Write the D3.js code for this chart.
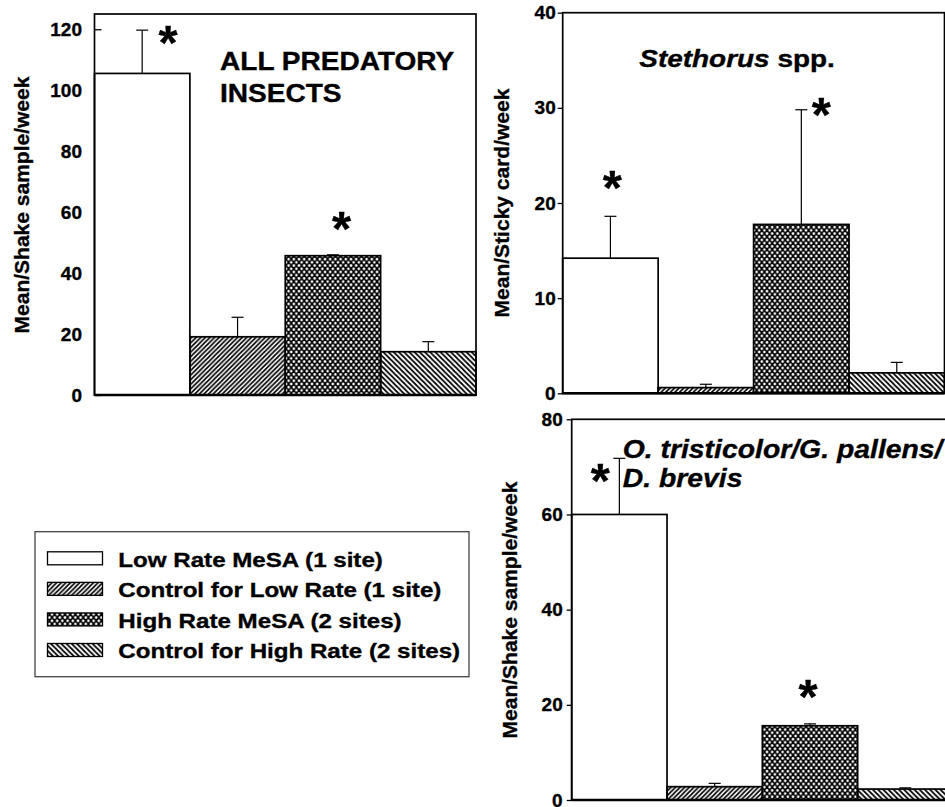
<!DOCTYPE html>
<html>
<head>
<meta charset="utf-8">
<script src="https://cdn.jsdelivr.net/npm/d3@7"></script>
<style>
body{margin:0;background:#fff;overflow:hidden;}
svg text{font-family:'Liberation Sans',Arial,sans-serif;font-weight:bold;fill:#000;stroke:#000;stroke-width:0.35px;}
</style>
</head>
<body>
<svg id="chart"></svg>
<script>
// treatments, in bar order
const categories = ['Low Rate MeSA (1 site)', 'Control for Low Rate (1 site)', 'High Rate MeSA (2 sites)', 'Control for High Rate (2 sites)'];
const patternIds = ['plain', 'fwdHatch', 'crossHatch', 'backHatch'];

// all predatory insects, shake samples
const predatorMeans = [105.5, 19.1, 45.7, 14.2];
const predatorSE = [14.2, 6.4, 0.3, 3.3];
const predatorTicks = [0, 20, 40, 60, 80, 100, 120];
const predatorStars = [0, 2];
const predatorStarAt = [119.5, 58.4];
const predatorStarShift = [0.27, 0.09];

// Stethorus, sticky cards
const stethorusMeans = [14.2, 0.6, 17.75, 2.15];
const stethorusSE = [4.4, 0.35, 12.05, 1.1];
const stethorusTicks = [0, 10, 20, 30, 40];
const stethorusStars = [0, 2];
const stethorusStarAt = [22.9, 30.6];
const stethorusStarShift = [0.02, 0.21];

// O. tristicolor / G. pallens / D. brevis, shake samples
const bugMeans = [60.0, 2.8, 15.6, 2.3];
const bugSE = [11.8, 0.7, 0.4, 0.25];
const bugTicks = [0, 20, 40, 60, 80];
const bugStars = [0, 2];
const bugStarAt = [69.7, 24.2];
const bugStarShift = [-0.2, -0.02];

var draw = function(){
    const width = 945, height = 807;
    var svg = d3.select('svg#chart')
    .attr('width', width)
    .attr('height', height);

    // hatch fills
    var defs = svg.append('defs');
    defs.append('pattern')
    .attr('id', 'fwdHatch')
    .attr('patternUnits', 'userSpaceOnUse')
    .attr('width', 4.6).attr('height', 4.6)
    .append('path')
    .attr('d', 'M-1,1 L1,-1 M0,4.6 L4.6,0 M3.6,5.6 L5.6,3.6')
    .attr('stroke', '#000').attr('stroke-width', 1.7);

    defs.append('pattern')
    .attr('id', 'backHatch')
    .attr('patternUnits', 'userSpaceOnUse')
    .attr('width', 5.2).attr('height', 5.2)
    .append('path')
    .attr('d', 'M-1,4.2 L1,6.2 M0,0 L5.2,5.2 M4.2,-1 L6.2,1')
    .attr('stroke', '#000').attr('stroke-width', 1.7);

    var cross = defs.append('pattern')
    .attr('id', 'crossHatch')
    .attr('patternUnits', 'userSpaceOnUse')
    .attr('width', 5.2).attr('height', 6.4);
    cross.append('rect')
    .attr('width', 5.2).attr('height', 6.4)
    .attr('fill', '#000');
    cross.selectAll('circle')
    .data([[0, 0], [5.2, 0], [0, 6.4], [5.2, 6.4], [2.6, 3.2]])
    .enter().append('circle')
    .attr('cx', d => d[0]).attr('cy', d => d[1])
    .attr('r', 1.35)
    .attr('fill', '#fff');

    function fillOf(i){
        return patternIds[i] === 'plain' ? '#fff' : 'url(#' + patternIds[i] + ')';
    }

    // text that is a bit wider than the font, like the scanned figure
    function wideText(g, x, y, size, sx){
        return g.append('text')
        .attr('transform', 'translate(' + x + ',' + y + ') scale(' + sx + ',1)')
        .style('font-size', size + 'px');
    }

    function drawPanel(p){
        var g = svg.append('g');

        var x = d3.scaleBand()
        .domain(d3.range(categories.length))
        .range([p.left, p.right])
        .padding(0);

        var y = d3.scaleLinear()
        .domain([0, p.max])
        .range([p.bottom, p.top]);

        var axis = d3.axisLeft(y)
        .tickValues(p.ticks)
        .tickSizeInner(p.tickSize)
        .tickSizeOuter(0)
        .tickPadding(p.tickPad);

        var ax = g.append('g')
        .attr('transform', 'translate(' + p.left + ',0)')
        .call(axis);
        ax.select('.domain').remove();
        ax.selectAll('line').attr('stroke', '#000').attr('stroke-width', 1.3);
        ax.selectAll('text')
        .attr('fill', '#000')
        .style('font-size', '19px')
        .style('font-family', "'Liberation Sans',Arial,sans-serif")
        .style('font-weight', 'bold');

        g.append('text')
        .attr('transform', 'translate(' + p.labelX + ',' + p.labelY + ') rotate(-90)')
        .attr('text-anchor', 'middle')
        .style('font-size', '21px')
        .text(p.label);

        // bars
        g.selectAll('rect.bar')
        .data(p.means)
        .enter().append('rect')
        .attr('class', 'bar')
        .attr('x', (d, i) => x(i))
        .attr('width', x.bandwidth())
        .attr('y', d => y(d))
        .attr('height', d => p.bottom - y(d))
        .attr('fill', (d, i) => fillOf(i))
        .attr('stroke', '#000')
        .attr('stroke-width', 1.7);

        // error bars, upper side only
        var cap = 6;
        var eb = g.selectAll('g.err')
        .data(p.means.map((m, i) => ({i: i, lo: m, hi: m + p.se[i]})))
        .enter().append('g')
        .attr('class', 'err')
        .attr('stroke', '#000')
        .attr('stroke-width', 1.2);
        eb.append('line')
        .attr('x1', d => x(d.i) + x.bandwidth()/2)
        .attr('x2', d => x(d.i) + x.bandwidth()/2)
        .attr('y1', d => y(d.lo))
        .attr('y2', d => y(d.hi));
        eb.append('line')
        .attr('x1', d => x(d.i) + x.bandwidth()/2 - cap)
        .attr('x2', d => x(d.i) + x.bandwidth()/2 + cap)
        .attr('y1', d => y(d.hi))
        .attr('y2', d => y(d.hi));

        // frame
        g.append('rect')
        .attr('x', p.left).attr('y', p.top)
        .attr('width', p.frameRight - p.left)
        .attr('height', p.bottom - p.top)
        .attr('fill', 'none')
        .attr('stroke', '#000')
        .attr('stroke-width', 1.7);
        g.append('line')
        .attr('x1', p.left).attr('x2', p.frameRight)
        .attr('y1', p.bottom).attr('y2', p.bottom)
        .attr('stroke', '#000')
        .attr('stroke-width', 2.6);

        // significance stars
        var starSize = 49;
        g.selectAll('text.star')
        .data(p.stars.map((b, k) => ({bar: b, at: p.starAt[k], shift: p.starShift[k]})))
        .enter().append('text')
        .attr('class', 'star')
        .attr('text-anchor', 'middle')
        .attr('x', d => x(d.bar) + x.bandwidth()*(0.5 + d.shift))
        .attr('y', d => y(d.at) + starSize*0.58)
        .style('font-size', starSize + 'px')
        .text('*');

        p.title(g);
    }

    drawPanel({
        left: 94.5, right: 476, frameRight: 476, top: 14, bottom: 395, max: 125,
        ticks: predatorTicks, tickSize: -7, tickPad: 12.5,
        means: predatorMeans, se: predatorSE,
        stars: predatorStars, starAt: predatorStarAt, starShift: predatorStarShift,
        label: 'Mean/Shake sample/week', labelX: 28.5, labelY: 205,
        title: function(g){
            wideText(g, 220, 70, 25.5, 1.1).text('ALL PREDATORY');
            wideText(g, 220, 102, 25.5, 1.1).text('INSECTS');
        }
    });

    drawPanel({
        left: 562.7, right: 944.5, frameRight: 944.5, top: 12.7, bottom: 393.3, max: 40,
        ticks: stethorusTicks, tickSize: 5, tickPad: 2,
        means: stethorusMeans, se: stethorusSE,
        stars: stethorusStars, starAt: stethorusStarAt, starShift: stethorusStarShift,
        label: 'Mean/Sticky card/week', labelX: 508.5, labelY: 203,
        title: function(g){
            var t = wideText(g, 639.3, 66.7, 24.5, 1.14);
            t.append('tspan').style('font-style', 'italic').text('Stethorus');
            t.append('tspan').text(' spp.');
        }
    });

    drawPanel({
        left: 571.7, right: 953, frameRight: 953, top: 419.3, bottom: 800, max: 80,
        ticks: bugTicks, tickSize: 5, tickPad: 4,
        means: bugMeans, se: bugSE,
        stars: bugStars, starAt: bugStarAt, starShift: bugStarShift,
        label: 'Mean/Shake sample/week', labelX: 516.5, labelY: 610,
        title: function(g){
            wideText(g, 622.7, 458.3, 26.5, 1.07).style('font-style', 'italic').text('O. tristicolor/G. pallens/');
            wideText(g, 622.7, 487.3, 26.5, 1.07).style('font-style', 'italic').text('D. brevis');
        }
    });

    // legend
    var legend = svg.append('g');
    legend.append('rect')
    .attr('x', 35).attr('y', 531.7)
    .attr('width', 434).attr('height', 145)
    .attr('fill', '#fff')
    .attr('stroke', '#444')
    .attr('stroke-width', 1.3);

    var rowY = d3.scalePoint()
    .domain(d3.range(categories.length))
    .range([558.3, 650]);

    var rows = legend.selectAll('g.row')
    .data(categories)
    .enter().append('g')
    .attr('class', 'row');
    rows.append('rect')
    .attr('x', 47.5)
    .attr('y', (d, i) => rowY(i) - 6.5)
    .attr('width', 55).attr('height', 13)
    .attr('fill', (d, i) => fillOf(i))
    .attr('stroke', '#000')
    .attr('stroke-width', 1.3);
    rows.each(function(d, i){
        wideText(d3.select(this), 118.3, rowY(i) + 8.2, 21, 1.15).text(d);
    });
}

draw();
</script>
</body>
</html>
